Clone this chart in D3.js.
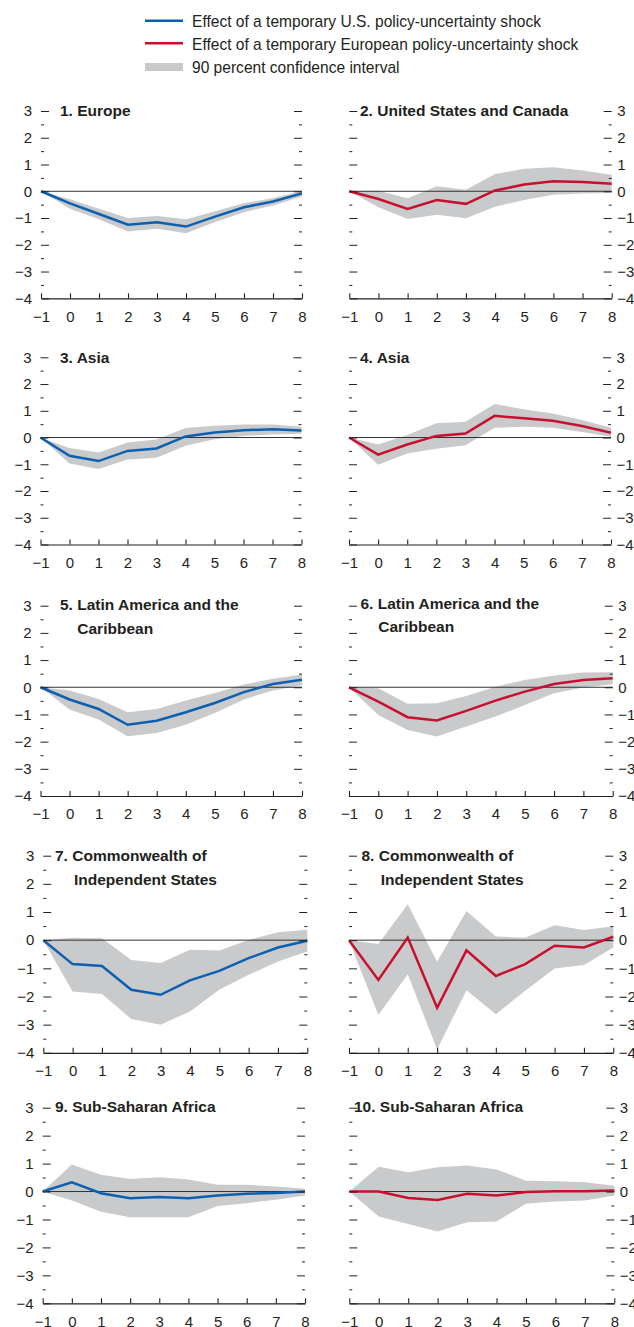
<!DOCTYPE html>
<html>
<head>
<meta charset="utf-8">
<script src="https://cdnjs.cloudflare.com/ajax/libs/d3/7.8.5/d3.min.js"></script>
<style>
  body { margin: 0; background: #fff; }
  svg { display: block; }
  text { font-family: "Liberation Sans", Arial, sans-serif; fill: #231f20; }
</style>
</head>
<body>
<svg id="chart" width="634" height="1327"></svg>
<script>
// Quarters after the shock
const horizons = [-1, 0, 1, 2, 3, 4, 5, 6, 7, 8];
const yMajorTicks = [3, 2, 1, 0, -1, -2, -3, -4];
const yMinorTicks = [2.5, 1.5, 0.5, -0.5, -1.5, -2.5, -3.5];

const panelTitles = [
  ["1. Europe"],
  ["2. United States and Canada"],
  ["3. Asia"],
  ["4. Asia"],
  ["5. Latin America and the", "Caribbean"],
  ["6. Latin America and the", "Caribbean"],
  ["7. Commonwealth of", "Independent States"],
  ["8. Commonwealth of", "Independent States"],
  ["9. Sub-Saharan Africa"],
  ["10. Sub-Saharan Africa"]
];

// Which shock each panel shows: "us" or "europe"
const shockSource = ["us", "europe", "us", "europe", "us", "europe", "us", "europe", "us", "europe"];

// Impulse responses (percent), one row per panel
const pointEstimates = [
  [0, -0.45, -0.85, -1.25, -1.16, -1.32, -0.95, -0.60, -0.38, -0.08],
  [0, -0.29, -0.66, -0.33, -0.47, 0.03, 0.25, 0.37, 0.35, 0.28],
  [0, -0.68, -0.88, -0.50, -0.41, 0.04, 0.19, 0.27, 0.31, 0.26],
  [0, -0.64, -0.26, 0.06, 0.15, 0.81, 0.72, 0.63, 0.43, 0.18],
  [0, -0.45, -0.80, -1.38, -1.23, -0.92, -0.58, -0.18, 0.12, 0.28],
  [0, -0.53, -1.10, -1.22, -0.87, -0.49, -0.16, 0.12, 0.27, 0.33],
  [0, -0.85, -0.92, -1.76, -1.94, -1.43, -1.09, -0.64, -0.26, -0.02],
  [0, -1.41, 0.09, -2.40, -0.36, -1.27, -0.85, -0.20, -0.26, 0.12],
  [0, 0.33, -0.06, -0.24, -0.20, -0.24, -0.14, -0.08, -0.05, 0.00],
  [0, 0.00, -0.23, -0.30, -0.08, -0.14, -0.02, 0.01, 0.01, 0.04]
];

// 90 percent confidence bounds
const lowerBounds = [
  [0, -0.65, -1.05, -1.50, -1.40, -1.57, -1.15, -0.78, -0.53, -0.20],
  [0, -0.60, -1.04, -0.88, -1.01, -0.58, -0.33, -0.13, -0.08, -0.06],
  [0, -0.97, -1.18, -0.82, -0.76, -0.31, -0.06, 0.06, 0.11, 0.14],
  [0, -1.02, -0.60, -0.42, -0.29, 0.37, 0.40, 0.37, 0.21, 0.03],
  [0, -0.82, -1.19, -1.80, -1.68, -1.38, -0.95, -0.45, -0.12, 0.07],
  [0, -1.02, -1.57, -1.81, -1.44, -1.08, -0.65, -0.22, -0.01, 0.11],
  [0, -1.82, -1.91, -2.80, -3.00, -2.53, -1.76, -1.23, -0.76, -0.40],
  [0, -2.66, -1.21, -3.88, -1.78, -2.63, -1.80, -1.01, -0.88, -0.26],
  [0, -0.32, -0.72, -0.92, -0.92, -0.92, -0.52, -0.42, -0.29, -0.14],
  [0, -0.89, -1.16, -1.43, -1.10, -1.07, -0.44, -0.36, -0.32, -0.14]
];
const upperBounds = [
  [0, -0.30, -0.65, -1.00, -0.92, -1.05, -0.75, -0.45, -0.25, 0.00],
  [0, 0.02, -0.26, 0.19, 0.06, 0.65, 0.84, 0.90, 0.78, 0.62],
  [0, -0.39, -0.56, -0.19, -0.07, 0.36, 0.44, 0.49, 0.49, 0.40],
  [0, -0.26, 0.09, 0.53, 0.59, 1.25, 1.06, 0.90, 0.66, 0.37],
  [0, -0.12, -0.43, -0.92, -0.80, -0.49, -0.21, 0.10, 0.31, 0.47],
  [0, -0.04, -0.61, -0.59, -0.32, 0.02, 0.27, 0.43, 0.54, 0.55],
  [0, 0.09, 0.07, -0.70, -0.81, -0.34, -0.37, 0.01, 0.28, 0.37],
  [0, -0.14, 1.28, -0.77, 1.04, 0.13, 0.09, 0.53, 0.36, 0.49],
  [0, 0.97, 0.60, 0.45, 0.51, 0.43, 0.24, 0.24, 0.18, 0.10],
  [0, 0.89, 0.69, 0.87, 0.93, 0.79, 0.39, 0.37, 0.33, 0.21]
];

const legendLabels = [
  "Effect of a temporary U.S. policy-uncertainty shock",
  "Effect of a temporary European policy-uncertainty shock",
  "90 percent confidence interval"
];

// ---- styling & layout ----
const colors = { us: "#0d5fb0", europe: "#c8102e", band: "#c9cacc", ink: "#231f20" };

// plot frames per grid row: [top (y=3), bottom (y=-4)]
const rowFrames = [[111, 298.3], [357.3, 544.5], [605.7, 796], [855.7, 1052.8], [1107.7, 1303.3]];
// horizontal extents per row: left column, right column
const leftCols = [[41, 302], [40.5, 301.5], [40.5, 302], [43.3, 307.3], [42.7, 305]];
const rightCols = [[349.3, 611.7], [349, 611], [349, 612.7], [349, 613.3], [349.3, 614.3]];
// title anchors
const titleX = [60, 360, 60, 360, 60, 360.5, 55, 361.5, 55, 354];
const titleX2 = [0, 0, 0, 0, 77.3, 378.3, 74, 380.7, 0, 0];
const titleBaseline = [115.7, 115.7, 362.7, 362.7, 610, 608.5, 861, 861, 1112.3, 1112.3];

const svg = d3.select("#chart");

// narrow a text element horizontally by the given factor
function squeeze(sel, factor) {
  sel.each(function () {
    const w = this.getComputedTextLength();
    if (w > 0) {
      d3.select(this).attr("textLength", w * factor).attr("lengthAdjust", "spacingAndGlyphs");
    }
  });
}

// ---- legend ----
const legend = svg.append("g");
const legendRows = [20.7, 43.3, 67];
legendLabels.forEach((label, i) => {
  const y = legendRows[i];
  if (i < 2) {
    legend.append("line")
      .attr("x1", 145).attr("x2", 183).attr("y1", y).attr("y2", y)
      .attr("stroke", i === 0 ? colors.us : colors.europe).attr("stroke-width", 2.5);
  } else {
    legend.append("rect")
      .attr("x", 145).attr("y", y - 4).attr("width", 38).attr("height", 8)
      .attr("fill", colors.band);
  }
  legend.append("text")
    .attr("x", 192).attr("y", y + 6.3)
    .style("font-size", "17px")
    .text(label)
    .call(squeeze, 0.915);
});

// ---- panels ----
pointEstimates.forEach((est, p) => {
  const row = Math.floor(p / 2);
  const isRight = p % 2 === 1;
  const [yTop, yBot] = rowFrames[row];
  const [xL, xR] = isRight ? rightCols[row] : leftCols[row];

  const x = d3.scaleLinear().domain([-1, 8]).range([xL, xR]);
  const y = d3.scaleLinear().domain([-4, 3]).range([yBot, yTop]);

  const g = svg.append("g");
  const data = horizons.map((h, i) => ({ h, v: est[i], lo: lowerBounds[p][i], hi: upperBounds[p][i] }));

  // confidence band
  g.append("path").datum(data)
    .attr("fill", colors.band)
    .attr("d", d3.area().x(d => x(d.h)).y0(d => y(d.lo)).y1(d => y(d.hi)));

  // zero line
  g.append("line")
    .attr("x1", x(-1)).attr("x2", x(8)).attr("y1", y(0)).attr("y2", y(0))
    .attr("stroke", "#333").attr("stroke-width", 1);

  // point estimate
  g.append("path").datum(data)
    .attr("fill", "none")
    .attr("stroke", colors[shockSource[p]])
    .attr("stroke-width", 2.5)
    .attr("d", d3.line().x(d => x(d.h)).y(d => y(d.v)));

  // x axis
  const xAxis = d3.axisBottom(x).tickValues(horizons).tickSizeInner(-5).tickSizeOuter(0).tickPadding(12.8)
    .tickFormat(d3.format("d"));
  const gx = g.append("g").attr("transform", `translate(0,${yBot})`).call(xAxis);
  gx.attr("font-family", null).attr("font-size", null);
  gx.select(".domain").attr("stroke", colors.ink).attr("stroke-width", 1.2);
  gx.selectAll(".tick line").attr("stroke", colors.ink).attr("stroke-width", 1.1);
  gx.selectAll(".tick text").style("font-size", "15px").attr("fill", colors.ink);

  // y ticks on both sides
  const sides = [
    { axis: d3.axisLeft, pos: xL, labelled: !isRight, pad: 9 },
    { axis: d3.axisRight, pos: xR, labelled: isRight, pad: 5.5 }
  ];
  sides.forEach(s => {
    const major = s.axis(y).tickValues(yMajorTicks).tickSizeInner(-8).tickSizeOuter(0).tickPadding(s.pad)
      .tickFormat(s.labelled ? d3.format("d") : () => "");
    const gm = g.append("g").attr("transform", `translate(${s.pos},0)`).call(major);
    gm.attr("font-family", null).attr("font-size", null);
    gm.select(".domain").remove();
    gm.selectAll(".tick line").attr("stroke", colors.ink).attr("stroke-width", 1);
    gm.selectAll(".tick text").style("font-size", "15px").attr("fill", colors.ink);

    const minor = s.axis(y).tickValues(yMinorTicks).tickSizeInner(-3).tickSizeOuter(0).tickFormat(() => "");
    const gn = g.append("g").attr("transform", `translate(${s.pos},0)`).call(minor);
    gn.select(".domain").remove();
    gn.selectAll(".tick line").attr("stroke", colors.ink).attr("stroke-width", 1);
  });

  // title
  const t = panelTitles[p];
  t.forEach((line, li) => {
    g.append("text")
      .attr("x", li === 0 ? titleX[p] : titleX2[p])
      .attr("y", titleBaseline[p] + li * 23.8)
      .style("font-size", "15.5px").style("font-weight", "bold")
      .text(line);
  });
});
</script>
</body>
</html>
